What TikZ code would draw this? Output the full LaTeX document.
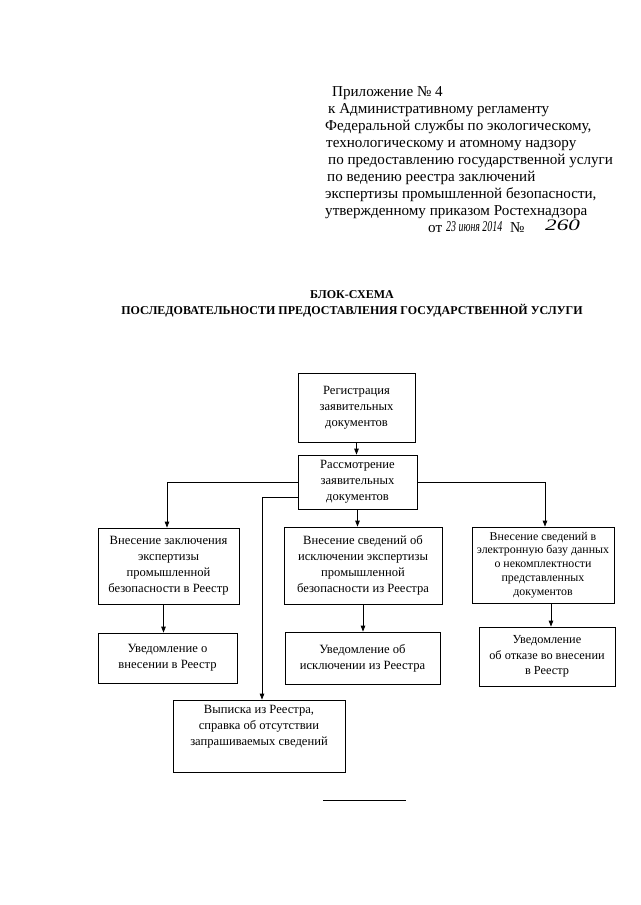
\documentclass[tikz,border=0pt]{standalone}
\usepackage{fontspec}
\usepackage{graphicx}
\setmainfont{Liberation Serif}
\usetikzlibrary{arrows.meta,calc}
\begin{document}
\begin{tikzpicture}[x=1pt,y=-1pt,
  hdr/.style={anchor=base west, inner sep=0pt, font=\fontsize{15.1}{17}\selectfont},
  ttl/.style={anchor=base, inner sep=0pt, font=\bfseries\fontsize{12}{16}\selectfont},
  box/.style={draw, line width=0.8pt, inner sep=0pt, align=center, font=\fontsize{12.6}{16}\selectfont},
  boxs/.style={box, font=\fontsize{11.9}{13.8}\selectfont},
  arr/.style={-{Triangle[length=6pt,width=4.5pt]}, line width=0.8pt},
  hand/.style={inner sep=0pt, anchor=base west, font=\itshape\fontsize{15}{16}\selectfont}]
\useasboundingbox (0,0) rectangle (640,905);
\fill[white] (0,0) rectangle (640,905);

% header
\node[hdr] (h1) at (332,96) {Приложение № 4};
\node[hdr] (h2) at (328,113) {к Административному регламенту};
\node[hdr] (h3) at (325,130) {Федеральной службы по экологическому,};
\node[hdr] (h4) at (326,147) {технологическому и атомному надзору};
\node[hdr] (h5) at (328,164) {по предоставлению государственной услуги};
\node[hdr] (h6) at (327,181) {по ведению реестра заключений};
\node[hdr] (h7) at (325,198) {экспертизы промышленной безопасности,};
\node[hdr] (h8) at (325,215) {утвержденному приказом Ростехнадзора};
\node[hdr] (h9) at (428,232) {от};
\node[hand] (h10) at (446,231) {\scalebox{0.66}[1]{23 июня 2014}};
\node[hdr] (h11) at (510,232) {№};
\node[hand, font=\itshape\fontsize{16}{16}\selectfont] (h12) at (545,230) {\scalebox{1.45}[1]{260}};

% title
\node[ttl] (t1) at (352,298) {БЛОК-СХЕМА};
\node[ttl] (t2) at (352,314) {ПОСЛЕДОВАТЕЛЬНОСТИ ПРЕДОСТАВЛЕНИЯ ГОСУДАРСТВЕННОЙ УСЛУГИ};

% boxes
\node[box, minimum width=117pt, minimum height=69pt] (reg) at (356.5,407.5)
  {Регистрация\\заявительных\\документов};
\node[box, minimum width=119pt, minimum height=54pt] (rasm) at (357.5,482)
  {Рассмотрение\\заявительных\\документов};
\node[box, minimum width=141pt, minimum height=76pt] (b1) at (168.5,566)
  {Внесение заключения\\экспертизы\\промышленной\\безопасности в Реестр};
\node[box, minimum width=158pt, minimum height=77pt] (b2) at (363,565.5)
  {Внесение сведений об\\исключении экспертизы\\промышленной\\безопасности из Реестра};
\node[boxs, minimum width=142pt, minimum height=76pt] (b3) at (543,565)
  {Внесение сведений в\\электронную базу данных\\о некомплектности\\представленных\\документов};
\node[box, minimum width=139pt, minimum height=50pt] (b1b) at (167.5,658)
  {Уведомление о\\внесении в Реестр};
\node[box, minimum width=155pt, minimum height=52pt] (b2b) at (362.5,658)
  {Уведомление об\\исключении из Реестра};
\node[box, minimum width=136pt, minimum height=59pt, font=\fontsize{12.3}{15.5}\selectfont] (b3b) at (547,656.5)
  {Уведомление\\об отказе во внесении\\в Реестр};
\node[box, minimum width=172pt, minimum height=72pt] (vyp) at (259,736)
  {Выписка из Реестра,\\справка об отсутствии\\запрашиваемых сведений\\\strut};

% connectors
\draw[arr] (reg.south) -- (reg.south |- rasm.north);
\draw[arr] (rasm.west) -| ([xshift=-1.5pt]b1.north);
\draw[arr] ([yshift=-15pt]rasm.west) -| ([xshift=3pt]vyp.north);
\draw[arr] (rasm.south) -- (rasm.south |- b2.north);
\draw[arr] (rasm.east) -| ([xshift=2pt]b3.north);
\draw[arr] ([xshift=-4pt]b1b.north |- b1.south) -- ([xshift=-4pt]b1b.north);
\draw[arr] (b2.south) -- (b2.south |- b2b.north);
\draw[arr] ([xshift=4pt]b3b.north |- b3.south) -- ([xshift=4pt]b3b.north);

% closing rule
\draw[line width=0.8pt] (323,800) -- (406,800);
\end{tikzpicture}
\end{document}
